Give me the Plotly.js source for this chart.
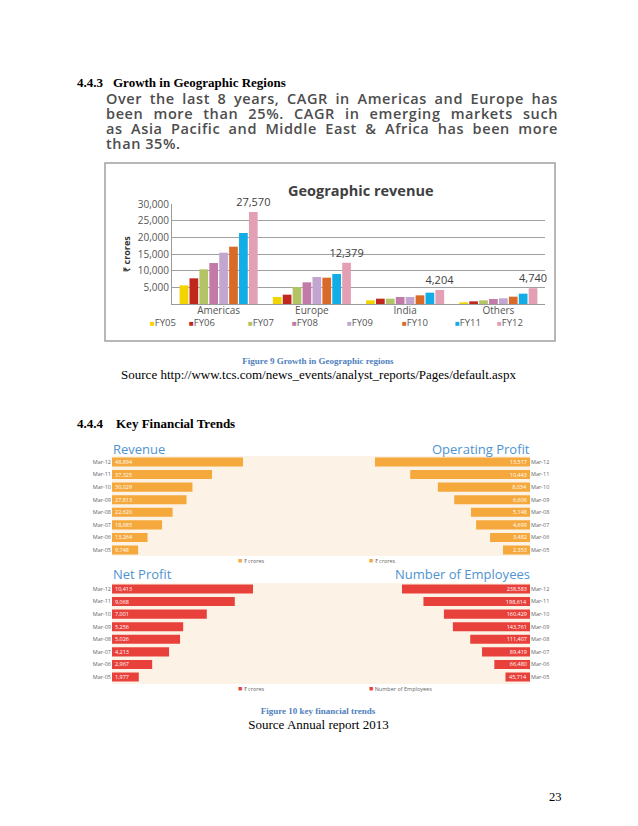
<!DOCTYPE html>
<html>
<head>
<meta charset="utf-8">
<script src="https://cdn.plot.ly/plotly-3.0.1.min.js"></script>
<style>
html,body{margin:0;padding:0;background:#fff;}
#page{position:relative;width:638px;height:826px;overflow:hidden;background:#fff;}
#chart{position:absolute;left:0;top:0;width:638px;height:826px;}
.t{position:absolute;white-space:nowrap;pointer-events:none;z-index:5;}
.serif{font-family:"Liberation Serif","Times New Roman",serif;color:#000;}
.h{font-weight:bold;font-size:13px;line-height:15px;}
.para{position:absolute;left:106px;top:91px;width:452px;font-family:"Open Sans",sans-serif;font-size:14.5px;font-weight:600;color:#4d4d4d;line-height:15px;letter-spacing:0.6px;text-align:justify;text-align-last:justify;white-space:pre-line;z-index:5;}
.cap{font-family:"Liberation Serif","Times New Roman",serif;font-weight:bold;color:#4F81BD;font-size:9px;line-height:12px;left:0;width:636px;text-align:center;}
.src{font-size:13px;line-height:15px;}
</style>
</head>
<body>
<div id="page">
  <div id="chart"></div>

  <div class="t serif h" style="left:77px;top:75px;">4.4.3</div>
  <div class="t serif h" style="left:113px;top:75px;">Growth in Geographic Regions</div>

  <div class="para">Over the last 8 years, CAGR in Americas and Europe has
been more than 25%. CAGR in emerging markets such
as Asia Pacific and Middle East &amp; Africa has been more
than&#8197;35%.</div>

  <div class="t cap" style="top:355px;">Figure 9 Growth in Geographic regions</div>
  <div class="t serif src" style="left:0;width:637px;text-align:center;top:367px;">Source http://www.tcs.com/news_events/analyst_reports/Pages/default.aspx</div>

  <div class="t serif h" style="left:77px;top:416px;">4.4.4</div>
  <div class="t serif h" style="left:116px;top:416px;">Key Financial Trends</div>

  <div class="t cap" style="top:705px;">Figure 10 key financial trends</div>
  <div class="t serif src" style="left:0;width:637px;text-align:center;top:717px;">Source Annual report 2013</div>

  <div class="t serif" style="left:549px;top:790px;font-size:12.5px;line-height:15px;">23</div>
</div>

<script>
// ---------- Data ----------
const regions = ['Americas', 'Europe', 'India', 'Others'];
const fyLabels = ['FY05', 'FY06', 'FY07', 'FY08', 'FY09', 'FY10', 'FY11', 'FY12'];
const fy05 = [5600, 2100, 1100, 500];
const fy06 = [7700, 2800, 1600, 800];
const fy07 = [10400, 5100, 1600, 1100];
const fy08 = [12300, 6500, 2100, 1500];
const fy09 = [15400, 8100, 2100, 1700];
const fy10 = [17200, 7900, 2600, 2200];
const fy11 = [21300, 9000, 3400, 3100];
const fy12 = [27570, 12379, 4204, 4740];
const geoTicks = [5000, 10000, 15000, 20000, 25000, 30000];

const periods = ['Mar-12', 'Mar-11', 'Mar-10', 'Mar-09', 'Mar-08', 'Mar-07', 'Mar-06', 'Mar-05'];
const revenue = [48894, 37325, 30029, 27813, 22620, 18685, 13264, 9748];
const operatingProfit = [13517, 10443, 8034, 6606, 5148, 4699, 3482, 2353];
const netProfit = [10413, 9068, 7001, 5256, 5026, 4213, 2967, 1977];
const employees = [238583, 198614, 160429, 143761, 111407, 89419, 66480, 45714];

// ---------- Page geometry helpers ----------
const W = 638, H = 826;
const px = v => v / W;
const py = v => 1 - v / H;

const geoColors = ['#F2D400', '#C0281E', '#B3C466', '#C27BA8', '#C3A6CF', '#D96A28', '#12ACE6', '#E39FB3'];
const geoSeries = [fy05, fy06, fy07, fy08, fy09, fy10, fy11, fy12];
const orange = '#F5A83B';
const red = '#E8413C';
const titleBlue = '#4F93D0';

const traces = geoSeries.map((vals, i) => {
  const t = {
    type: 'bar', x: regions, y: vals, name: fyLabels[i],
    xaxis: 'x', yaxis: 'y', marker: { color: geoColors[i] },
    showlegend: false, hoverinfo: 'skip'
  };
  if (i === geoSeries.length - 1) {
    t.texttemplate = '%{y:,}';
    t.textposition = 'outside';
    t.constraintext = 'none';
    t.textfont = { size: 11, color: '#404040' };
    t.cliponaxis = false;
  } else {
    t.textposition = 'none';
  }
  return t;
});

function hbar(vals, color, name, xa, ya) {
  return {
    type: 'bar', orientation: 'h', y: periods, x: vals, name: name,
    xaxis: xa, yaxis: ya, width: 0.72, marker: { color: color },
    texttemplate: '%{x:,}', textposition: 'inside', insidetextanchor: 'start',
    textangle: 0, constraintext: 'none',
    insidetextfont: { size: 5.5, color: '#ffffff' },
    showlegend: false, hoverinfo: 'skip', cliponaxis: false
  };
}
traces.push(hbar(revenue, orange, '₹ crores', 'x2', 'y2'));
traces.push(hbar(operatingProfit, orange, '₹ crores', 'x3', 'y3'));
traces.push(hbar(netProfit, red, '₹ crores', 'x4', 'y4'));
traces.push(hbar(employees, red, 'Number of Employees', 'x5', 'y5'));

// horizontal scales: value -> bar length in px measured from reference
const leftW = 320 - 112, rightW = 530 - 320;
const revMax = Math.max(...revenue) * leftW / 131;
const opMax = Math.max(...operatingProfit) * rightW / 155;
const npMax = Math.max(...netProfit) * leftW / 141;
const empMax = Math.max(...employees) * rightW / 128;

const catAxis = (dom, anchor, side) => ({
  domain: dom, anchor: anchor, type: 'category', autorange: 'reversed', side: side,
  showgrid: false, showline: false, zeroline: false, ticks: '',
  tickfont: { size: 5.5, color: '#666' }, fixedrange: true
});
const topDom = [py(556.3), py(455.7)];
const botDom = [py(683.3), py(582.7)];

function ann(x, y, text, opts) {
  return Object.assign({ xref: 'paper', yref: 'paper', x: px(x), y: py(y), text: text,
    showarrow: false, xanchor: 'left', yanchor: 'middle' }, opts || {});
}
const legendAnn = [];
const legX = [148, 187, 246, 290, 345, 400, 453, 495];
fyLabels.forEach((lab, i) => {
  legendAnn.push(ann(legX[i], 322, '<span style="color:' + geoColors[i] + ';font-size:8px">■</span>' + lab,
    { font: { size: 9.5, color: '#555' } }));
});

const annotations = [
  ann(361, 191, '<b>Geographic revenue</b>', { xanchor: 'center', font: { size: 14.5, color: '#404040' } }),
  ann(111, 449, 'Revenue', { font: { size: 13, color: titleBlue } }),
  ann(532, 449, 'Operating Profit', { xanchor: 'right', font: { size: 13, color: titleBlue } }),
  ann(111, 574, 'Net Profit', { font: { size: 13, color: titleBlue } }),
  ann(532, 574, 'Number of Employees', { xanchor: 'right', font: { size: 13, color: titleBlue } }),
  ann(236, 560, '<span style="color:' + orange + ';font-size:7px">■</span> ₹ crores', { font: { size: 5.5, color: '#666' } }),
  ann(367, 560, '<span style="color:' + orange + ';font-size:7px">■</span> ₹ crores', { font: { size: 5.5, color: '#666' } }),
  ann(236, 688, '<span style="color:' + red + ';font-size:7px">■</span> ₹ crores', { font: { size: 5.5, color: '#666' } }),
  ann(367, 688, '<span style="color:' + red + ';font-size:7px">■</span> Number of Employees', { font: { size: 5.5, color: '#666' } })
].concat(legendAnn);

const shapes = [
  { type: 'rect', xref: 'paper', yref: 'paper', x0: px(105), x1: px(555), y0: py(341), y1: py(163),
    line: { color: '#A0A0A0', width: 1.5 }, fillcolor: 'rgba(0,0,0,0)', layer: 'below' },
  { type: 'rect', xref: 'paper', yref: 'paper', x0: px(112), x1: px(530), y0: py(556), y1: py(456),
    line: { width: 0 }, fillcolor: '#FDF2E6', layer: 'below' },
  { type: 'rect', xref: 'paper', yref: 'paper', x0: px(112), x1: px(530), y0: py(684), y1: py(583),
    line: { width: 0 }, fillcolor: '#FDF2E6', layer: 'below' }
];

const layout = {
  width: W, height: H, margin: { l: 0, r: 0, t: 0, b: 0 },
  paper_bgcolor: '#ffffff', plot_bgcolor: 'rgba(0,0,0,0)',
  barmode: 'group', bargap: 0.15, bargroupgap: 0.12, showlegend: false,
  font: { family: 'Open Sans, sans-serif', color: '#595959' },
  xaxis: { domain: [px(172), px(545)], anchor: 'y', type: 'category', showgrid: false,
    showline: true, linecolor: '#9a9a9a', linewidth: 1, ticks: '', zeroline: false,
    ticklabelstandoff: -3,
    tickfont: { size: 10, color: '#555' }, fixedrange: true },
  yaxis: { domain: [py(304), py(204)], anchor: 'x', range: [0, 30000], tickvals: geoTicks,
    tickformat: ',d', showgrid: true, gridcolor: '#A0A0A0', gridwidth: 1, showline: true,
    linecolor: '#9a9a9a', zeroline: false, ticks: '', tickfont: { size: 10, color: '#555' },
    title: { text: '<b>₹ crores</b>', font: { size: 9, color: '#333' }, standoff: 5 }, fixedrange: true },
  xaxis2: { domain: [px(112), px(320)], anchor: 'y2', range: [0, revMax], visible: false, fixedrange: true },
  yaxis2: catAxis(topDom, 'x2', 'left'),
  xaxis3: { domain: [px(320), px(530)], anchor: 'y3', range: [opMax, 0], visible: false, fixedrange: true },
  yaxis3: catAxis(topDom, 'x3', 'right'),
  xaxis4: { domain: [px(112), px(320)], anchor: 'y4', range: [0, npMax], visible: false, fixedrange: true },
  yaxis4: catAxis(botDom, 'x4', 'left'),
  xaxis5: { domain: [px(320), px(530)], anchor: 'y5', range: [empMax, 0], visible: false, fixedrange: true },
  yaxis5: catAxis(botDom, 'x5', 'right'),
  annotations: annotations,
  shapes: shapes
};

Plotly.newPlot('chart', traces, layout, { staticPlot: true, displayModeBar: false });
</script>
</body>
</html>
